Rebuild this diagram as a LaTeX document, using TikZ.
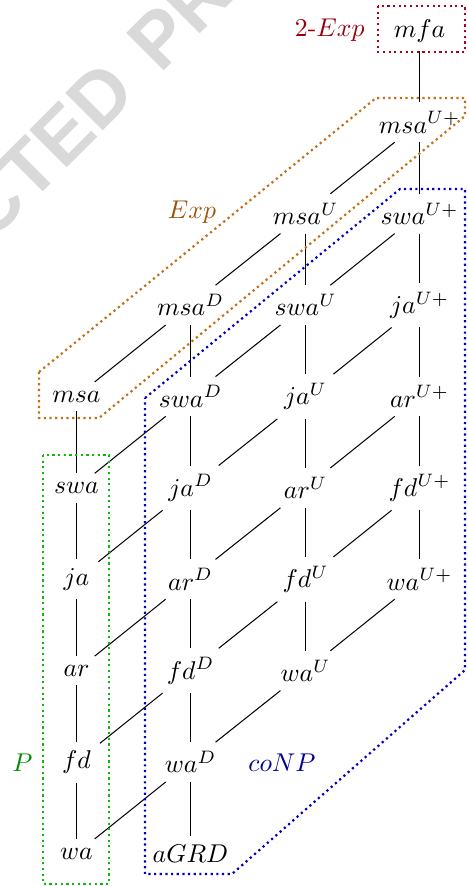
\documentclass[tikz,border=0pt]{standalone}
\usepackage{fontspec}
\newfontfamily\wmfont{Liberation Sans}
\definecolor{redbox}{RGB}{175,0,25}
\definecolor{redlab}{RGB}{150,0,10}
\definecolor{orabox}{RGB}{195,110,20}
\definecolor{oralab}{RGB}{155,85,5}
\definecolor{blubox}{RGB}{0,0,190}
\definecolor{blulab}{RGB}{0,0,150}
\definecolor{grnbox}{RGB}{10,185,10}
\definecolor{grnlab}{RGB}{0,140,0}
\definecolor{wmgray}{RGB}{217,217,217}
\begin{document}
\begin{tikzpicture}[x=0.389pt,y=-0.389pt]
\tikzset{
  edge/.style={draw=black,line width=0.4pt},
  dotbox/.style={line width=0.85pt,dash pattern=on 0.85pt off 1.35pt},
  wmtext/.style={text=wmgray,font=\wmfont\bfseries\fontsize{30pt}{36pt}\selectfont,rotate=45,inner sep=0pt},
  lab/.style={anchor=base,inner sep=0pt}
}
\useasboundingbox (0,0) rectangle (467,886);
% watermark
\begin{scope}
\clip (0,0) rectangle (467,886);
\node[wmtext,anchor=base east] (wm1) at (139.5,95.1) {CTED};
\node[wmtext,anchor=base west] (wm2) at (160.1,74.5) {PR};
\end{scope}
% column 0
\node (a0) at (76.5,396.5) {$msa$};
\node (a1) at (76.5,487.9) {$swa$};
\node (a2) at (76.5,579.3) {$ja$};
\node (a3) at (76.5,670.7) {$ar$};
\node (a4) at (76.5,762.1) {$fd$};
\node (a5) at (76.5,853.5) {$wa$};
% column 1
\node (b0) at (190.5,305.1) {$msa^D$};
\node (b1) at (190.5,396.5) {$swa^D$};
\node (b2) at (190.5,487.9) {$ja^D$};
\node (b3) at (190.5,579.3) {$ar^D$};
\node (b4) at (190.5,670.7) {$fd^D$};
\node (b5) at (190.5,762.1) {$wa^D$};
\node (b6) at (190.5,853.5) {$aGRD$};
% column 2
\node (c0) at (305.5,213.7) {$msa^U$};
\node (c1) at (305.5,305.1) {$swa^U$};
\node (c2) at (305.5,396.5) {$ja^U$};
\node (c3) at (305.5,487.9) {$ar^U$};
\node (c4) at (305.5,579.3) {$fd^U$};
\node (c5) at (305.5,670.7) {$wa^U$};
% column 3
\node (dm) at (419.5,30.9) {$mfa$};
\node (d0) at (419.5,122.3) {$msa^{U+}$};
\node (d1) at (419.5,213.7) {$swa^{U+}$};
\node (d2) at (419.5,305.1) {$ja^{U+}$};
\node (d3) at (419.5,396.5) {$ar^{U+}$};
\node (d4) at (419.5,487.9) {$fd^{U+}$};
\node (d5) at (419.5,579.3) {$wa^{U+}$};
% vertical edges
\draw[edge] (a0)--(a1) (a1)--(a2) (a2)--(a3) (a3)--(a4) (a4)--(a5);
\draw[edge] (b0)--(b1) (b1)--(b2) (b2)--(b3) (b3)--(b4) (b4)--(b5) (b5)--(b6);
\draw[edge] (c0)--(c1) (c1)--(c2) (c2)--(c3) (c3)--(c4) (c4)--(c5);
\draw[edge] (dm)--(d0) (d0)--(d1) (d1)--(d2) (d2)--(d3) (d3)--(d4) (d4)--(d5);
% diagonal edges
\draw[edge] (a0)--(b0) (a1)--(b1) (a2)--(b2) (a3)--(b3) (a4)--(b4) (a5)--(b5);
\draw[edge] (b0)--(c0) (b1)--(c1) (b2)--(c2) (b3)--(c3) (b4)--(c4) (b5)--(c5);
\draw[edge] (c0)--(d0) (c1)--(d1) (c2)--(d2) (c3)--(d3) (c4)--(d4) (c5)--(d5);
% class regions
\draw[dotbox,redbox] (378,6) rectangle (465,52);
\draw[dotbox,orabox] (39,372) -- (376,98) -- (465,98) -- (465,116) -- (99,418) -- (39,418) -- cycle;
\draw[dotbox,blubox] (145,398) -- (400,189) -- (465,189) -- (465,670) -- (232,874) -- (145,874) -- cycle;
\draw[dotbox,grnbox] (43,455) rectangle (109,884);
% class labels
\node[lab,text=redlab,anchor=base east] (l2exp) at (365,36.8) {$2$-$Exp$};
\node[lab,text=oralab] (lexp) at (192,218.5) {$Exp$};
\node[lab,text=grnlab] (lp) at (22.5,771) {$P$};
\node[lab,text=blulab] (lconp) at (282,771.5) {$coNP$};
\end{tikzpicture}
\end{document}
